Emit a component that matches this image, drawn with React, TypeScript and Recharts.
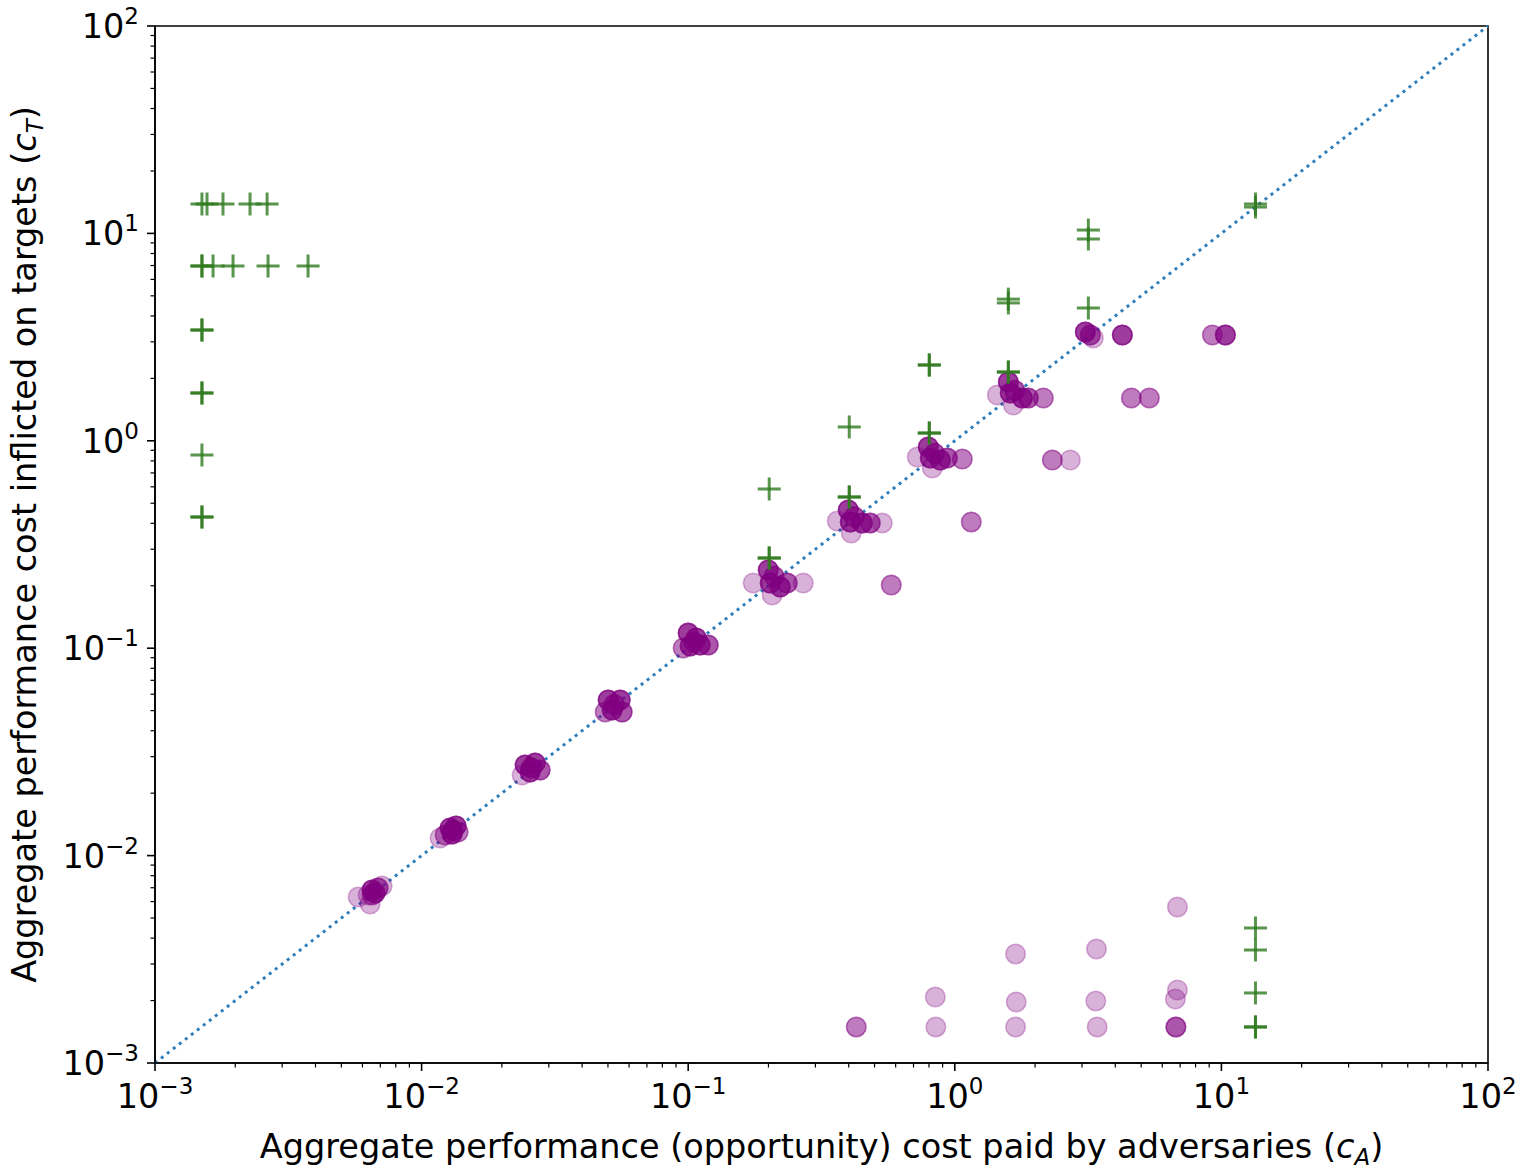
import React from "react";
import { ScatterChart, Scatter, XAxis, YAxis, ReferenceLine, ReferenceArea } from "recharts";

// decades shown on both log axes
const decades = [0.001, 0.01, 0.1, 1, 10, 100];
const minorSteps = [2, 3, 4, 5, 6, 7, 8, 9];

// purple circles: runs that sit near the diagonal (cost paid ~ cost inflicted)
const onDiagonal: [number, number][] = [
  [0.00652, 0.00683], [0.00652, 0.00683], [0.00652, 0.00683], [0.00652, 0.00683],
  [0.00687, 0.00698], [0.00687, 0.00698], [0.00687, 0.00698],
  [0.00669, 0.0066], [0.00669, 0.0066], [0.00669, 0.0066], [0.00669, 0.0066],
  [0.0063, 0.00646], [0.00711, 0.00714], [0.00578, 0.00631], [0.00641, 0.00584],
  [0.00652, 0.00646], [0.00652, 0.00646],
  [0.01279, 0.01359], [0.01279, 0.01359], [0.01279, 0.01359], [0.01279, 0.01359],
  [0.01347, 0.01389], [0.01347, 0.01389], [0.01347, 0.01389], [0.01347, 0.01389],
  [0.01226, 0.01257], [0.01226, 0.01257], [0.01302, 0.01271], [0.01302, 0.01271],
  [0.01302, 0.01271], [0.01302, 0.01271], [0.01173, 0.01216], [0.01371, 0.013],
  [0.01371, 0.013], [0.0131, 0.0132], [0.0131, 0.0132], [0.0131, 0.0132],
  [0.02446, 0.02733], [0.02446, 0.02733], [0.02446, 0.02733], [0.02446, 0.02733],
  [0.02666, 0.02795], [0.02666, 0.02795], [0.02666, 0.02795], [0.02666, 0.02795],
  [0.02553, 0.02529], [0.02553, 0.02529], [0.02553, 0.02529], [0.02553, 0.02529],
  [0.02784, 0.02585], [0.02784, 0.02585], [0.02784, 0.02585],
  [0.02383, 0.02446], [0.0258, 0.0265], [0.0258, 0.0265], [0.0258, 0.0265],
  [0.0501, 0.05627], [0.0501, 0.05627], [0.0501, 0.05627], [0.0501, 0.05627],
  [0.05557, 0.05627], [0.05557, 0.05627], [0.05557, 0.05627], [0.05557, 0.05627],
  [0.05186, 0.05035], [0.05186, 0.05035], [0.05186, 0.05035], [0.05186, 0.05035],
  [0.05654, 0.04925], [0.05654, 0.04925], [0.05654, 0.04925],
  [0.04883, 0.04925], [0.04883, 0.04925], [0.0528, 0.0535], [0.0528, 0.0535], [0.0528, 0.0535],
  [0.1, 0.1184], [0.1, 0.1184], [0.1, 0.1184], [0.1, 0.1184],
  [0.1072, 0.112], [0.1072, 0.112], [0.1072, 0.112], [0.1072, 0.112],
  [0.1017, 0.1025], [0.1017, 0.1025], [0.1017, 0.1025], [0.1017, 0.1025],
  [0.1109, 0.1036], [0.1109, 0.1036], [0.1109, 0.1036], [0.1109, 0.1036],
  [0.1189, 0.1036], [0.1189, 0.1036], [0.1189, 0.1036],
  [0.09576, 0.1002], [0.09576, 0.1002], [0.105, 0.107], [0.105, 0.107], [0.105, 0.107],
  [0.1996, 0.2382], [0.1996, 0.2382], [0.1996, 0.2382], [0.1996, 0.2382],
  [0.2031, 0.2062], [0.2031, 0.2062], [0.2031, 0.2062], [0.2031, 0.2062],
  [0.2214, 0.1973], [0.2214, 0.1973], [0.2214, 0.1973], [0.2214, 0.1973],
  [0.2352, 0.2062], [0.2352, 0.2062], [0.2352, 0.2062], [0.2701, 0.2062],
  [0.1753, 0.2062], [0.2066, 0.1805], [0.21, 0.222], [0.21, 0.222], [0.21, 0.222],
  [0.3985, 0.4637], [0.3985, 0.4637], [0.3985, 0.4637], [0.3985, 0.4637],
  [0.4054, 0.4061], [0.4054, 0.4061], [0.4054, 0.4061], [0.4054, 0.4061],
  [0.4496, 0.4016], [0.4496, 0.4016], [0.4496, 0.4016], [0.4496, 0.4016],
  [0.4818, 0.4016], [0.4818, 0.4016], [0.4818, 0.4016], [0.5346, 0.4016],
  [0.3623, 0.4106], [0.4089, 0.3592], [0.42, 0.43], [0.42, 0.43], [0.42, 0.43],
  [0.7954, 0.9335], [0.7954, 0.9335], [0.7954, 0.9335], [0.7954, 0.9335],
  [0.8093, 0.8262], [0.8093, 0.8262], [0.8093, 0.8262], [0.8093, 0.8262],
  [0.8824, 0.8079], [0.8824, 0.8079], [0.8824, 0.8079], [0.8824, 0.8079],
  [0.9374, 0.8262], [0.9374, 0.8262], [0.9374, 0.8262], [1.067, 0.8168],
  [1.067, 0.8168], [0.7232, 0.8354], [0.8235, 0.7394], [0.84, 0.87], [0.84, 0.87], [0.84, 0.87],
  [1.588, 1.921], [1.588, 1.921], [1.588, 1.921], [1.588, 1.921],
  [1.615, 1.7], [1.615, 1.7], [1.615, 1.7], [1.615, 1.7],
  [1.792, 1.608], [1.792, 1.608], [1.792, 1.608], [1.792, 1.608],
  [1.887, 1.608], [1.887, 1.608], [1.887, 1.608], [2.148, 1.608], [2.148, 1.608],
  [1.444, 1.663], [1.658, 1.488], [1.68, 1.75], [1.68, 1.75], [1.68, 1.75],
  [3.088, 3.346], [3.088, 3.346], [3.088, 3.346], [3.088, 3.346],
  [3.224, 3.236], [3.224, 3.236], [3.224, 3.236], [3.308, 3.13],
];

// purple circles clearly below the diagonal
const offDiagonal: [number, number][] = [
  [4.251, 3.236], [4.251, 3.236], [4.251, 3.236], [4.251, 3.236],
  [9.252, 3.236], [9.252, 3.236], [10.35, 3.236], [10.35, 3.236], [10.35, 3.236], [10.35, 3.236],
  [4.596, 1.608], [4.596, 1.608], [5.368, 1.608], [5.368, 1.608],
  [2.322, 0.8079], [2.322, 0.8079], [2.713, 0.8079],
  [1.153, 0.4061], [1.153, 0.4061],
  [0.5777, 0.2017], [0.5777, 0.2017],
];

// purple circles at the floor of the target-cost axis
const floorCircles: [number, number][] = [
  [0.427, 0.001492], [0.427, 0.001492],
  [0.845, 0.00208], [0.849, 0.001492],
  [1.69, 0.003355], [1.7, 0.001968], [1.69, 0.001492],
  [3.4, 0.003546], [3.38, 0.001991], [3.42, 0.001492],
  [6.84, 0.005651], [6.84, 0.002249], [6.72, 0.002035],
  [6.75, 0.001492], [6.75, 0.001492], [6.75, 0.001492],
];

// green crosses at the floor of the adversary-cost axis
const crossesLeft: [number, number][] = [
  [0.0015, 13.86], [0.001567, 13.86], [0.001799, 13.86], [0.002272, 13.86], [0.002633, 13.86],
  [0.0015, 6.963], [0.0015, 6.963], [0.001651, 6.963], [0.001962, 6.963], [0.002655, 6.963],
  [0.003751, 6.963],
  [0.0015, 3.421], [0.0015, 3.421], [0.0015, 1.7], [0.0015, 1.7],
  [0.0015, 0.8541], [0.0015, 0.4291], [0.0015, 0.4291],
];

// green crosses above the diagonal
const crossesUpper: [number, number][] = [
  [0.2013, 0.5856], [0.2013, 0.2722], [0.2013, 0.2722],
  [0.4019, 1.166], [0.4019, 0.5358], [0.4019, 0.5358],
  [0.8023, 2.32], [0.8023, 2.32], [0.8023, 1.09], [0.8023, 1.09],
  [1.588, 4.82], [1.588, 4.62], [1.588, 2.146], [1.588, 2.146],
  [3.169, 10.38], [3.169, 9.397], [3.169, 4.368],
  [13.42, 13.86], [13.42, 13.4],
];

// green crosses at the floor of the target-cost axis
const crossesFloor: [number, number][] = [
  [13.42, 0.004477], [13.42, 0.003506], [13.42, 0.002176],
  [13.42, 0.001492], [13.42, 0.001492],
];

const axisTicks = [
  ...decades,
  ...decades.slice(0, -1).flatMap((d) => minorSteps.map((m) => +(d * m).toPrecision(3))),
].sort((a, b) => a - b);

const toPoints = (rows: [number, number][]) => rows.map(([x, y]) => ({ x, y }));

const FONT = "'DejaVu Sans', sans-serif";
const PURPLE = "#800080";
const GREEN = "#2f7a1f";
const FS = 33.5;
const SUP = 23;

const expText = (e: number) => (e < 0 ? "\u2212" + Math.abs(e) : String(e));

function XTick(props: any) {
  const { x, y, payload } = props;
  const v = payload.value;
  const major = decades.includes(v);
  const e = Math.round(Math.log10(v));
  return (
    <g>
      <line x1={x} x2={x} y1={y} y2={y + (major ? 8 : 4.5)} stroke="#000" strokeWidth={major ? 1.6 : 1.2} />
      {major && (
        <text x={x} y={y + 45} textAnchor="middle" fontFamily={FONT} fontSize={FS} fill="#000">
          10<tspan dy={-14} fontSize={SUP}>{expText(e)}</tspan>
        </text>
      )}
    </g>
  );
}

function YTick(props: any) {
  const { x, y, payload } = props;
  const v = payload.value;
  const major = decades.includes(v);
  const e = Math.round(Math.log10(v));
  return (
    <g>
      <line x1={x - (major ? 8 : 4.5)} x2={x} y1={y} y2={y} stroke="#000" strokeWidth={major ? 1.6 : 1.2} />
      {major && (
        <text x={x - 16} y={y + 12} textAnchor="end" fontFamily={FONT} fontSize={FS} fill="#000">
          10<tspan dy={-14} fontSize={SUP}>{expText(e)}</tspan>
        </text>
      )}
    </g>
  );
}

function XLabel(props: any) {
  const { viewBox } = props;
  return (
    <text x={viewBox.x + viewBox.width / 2} y={viewBox.y + 95} textAnchor="middle" fontFamily={FONT} fontSize={FS} fill="#000">
      Aggregate performance (opportunity) cost paid by adversaries (<tspan fontStyle="italic">c</tspan>
      <tspan fontStyle="italic" fontSize={SUP} dy={7}>A</tspan>
      <tspan dy={-7}>)</tspan>
    </text>
  );
}

function YLabel(props: any) {
  const { viewBox } = props;
  const x = viewBox.x + 21;
  const y = viewBox.y + viewBox.height / 2;
  return (
    <text x={x} y={y} transform={`rotate(-90, ${x}, ${y})`} textAnchor="middle" fontFamily={FONT} fontSize={FS} fill="#000">
      Aggregate performance cost inflicted on targets (<tspan fontStyle="italic">c</tspan>
      <tspan fontStyle="italic" fontSize={SUP} dy={7}>T</tspan>
      <tspan dy={-7}>)</tspan>
    </text>
  );
}

const Dot = (props: any) => (
  <circle cx={props.cx} cy={props.cy} r={9.8} fill={PURPLE} fillOpacity={0.3} stroke={PURPLE} strokeOpacity={0.3} strokeWidth={1.5} />
);

const Plus = (props: any) => (
  <g stroke={GREEN} strokeWidth={3} strokeOpacity={0.8}>
    <line x1={props.cx - 11.5} x2={props.cx + 11.5} y1={props.cy} y2={props.cy} />
    <line x1={props.cx} x2={props.cx} y1={props.cy - 11.5} y2={props.cy + 11.5} />
  </g>
);

export default function App() {
  return (
    <div style={{ position: "absolute", left: 0, top: 0, background: "#fff" }}>
      <ScatterChart width={1522} height={1172} margin={{ top: 26, right: 34, bottom: 9, left: 15 }}>
        <ReferenceArea x1={0.001} x2={100} y1={0.001} y2={100} fill="none" stroke="#000" strokeWidth={1.6} ifOverflow="visible" />
        <XAxis
          dataKey="x"
          type="number"
          scale="log"
          domain={[0.001, 100]}
          allowDataOverflow
          ticks={axisTicks}
          interval={0}
          tick={XTick}
          tickLine={false}
          tickSize={0}
          tickMargin={0}
          axisLine={{ stroke: "#000", strokeWidth: 1.6 }}
          height={100}
          label={XLabel}
        />
        <YAxis
          dataKey="y"
          type="number"
          scale="log"
          domain={[0.001, 100]}
          allowDataOverflow
          ticks={axisTicks}
          interval={0}
          tick={YTick}
          tickLine={false}
          tickSize={0}
          tickMargin={0}
          axisLine={{ stroke: "#000", strokeWidth: 1.6 }}
          width={140}
          label={YLabel}
        />
        <Scatter data={toPoints(onDiagonal)} shape={Dot} isAnimationActive={false} />
        <Scatter data={toPoints(offDiagonal)} shape={Dot} isAnimationActive={false} />
        <Scatter data={toPoints(floorCircles)} shape={Dot} isAnimationActive={false} />
        <Scatter data={toPoints(crossesLeft)} shape={Plus} isAnimationActive={false} />
        <Scatter data={toPoints(crossesUpper)} shape={Plus} isAnimationActive={false} />
        <Scatter data={toPoints(crossesFloor)} shape={Plus} isAnimationActive={false} />
        <ReferenceLine
          segment={[{ x: 0.001, y: 0.001 }, { x: 100, y: 100 }]}
          stroke="#2f7ebc"
          strokeWidth={3}
          strokeDasharray="3 4.6"
          ifOverflow="visible"
        />
      </ScatterChart>
    </div>
  );
}
